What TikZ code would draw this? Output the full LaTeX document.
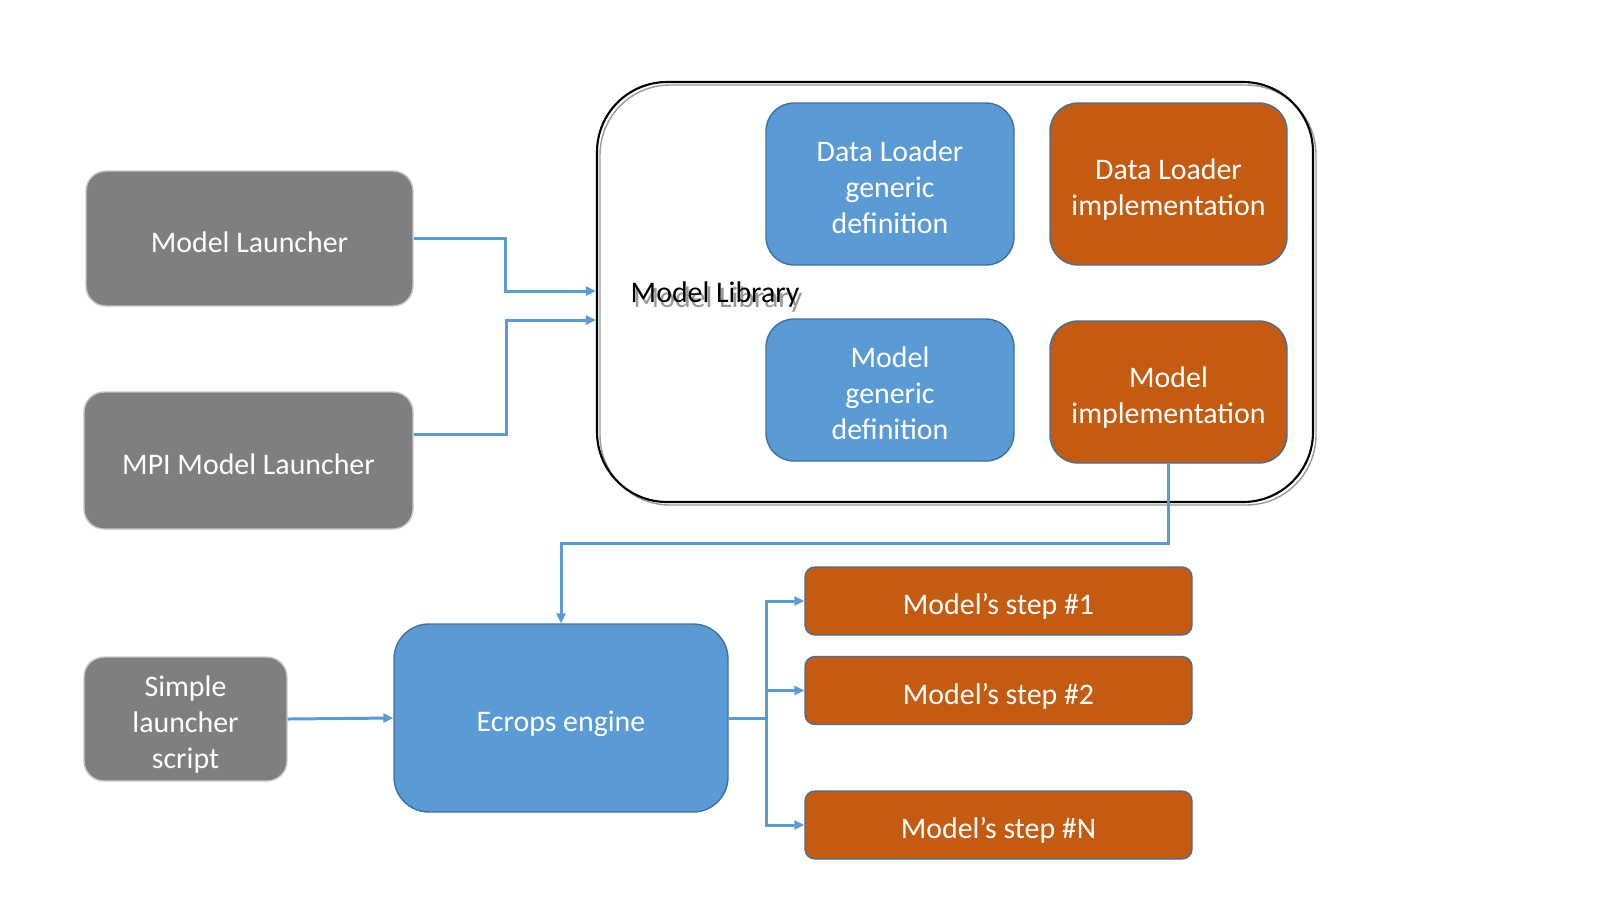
\documentclass[tikz,border=0pt]{standalone}
\usepackage{fontspec}
\setmainfont{Carlito}
\usepackage{tikz}
\usetikzlibrary{arrows.meta}
\definecolor{boxgray}{HTML}{7F7F7F}
\definecolor{boxblue}{HTML}{5B9BD5}
\definecolor{boxorange}{HTML}{C55A11}
\definecolor{edgeblue}{HTML}{41719C}
\newcommand{\firstln}{\rule{0pt}{10.2pt}}
\tikzset{
  txt/.style={font=\fontsize{8.5}{10.3}\selectfont,text=white,align=center,inner sep=0pt,
    execute at begin node={\firstln},execute at end node={\rule[-2.5pt]{0pt}{0pt}}},
  gbox/.style={txt,draw=black!22,line width=0.4pt,fill=boxgray,rounded corners=0.2cm},
  bbox/.style={txt,draw=edgeblue,line width=0.4pt,fill=boxblue,rounded corners=0.28cm},
  obox/.style={txt,draw=edgeblue,line width=0.4pt,fill=boxorange,rounded corners=0.28cm},
  sbox/.style={txt,draw=edgeblue,line width=0.4pt,fill=boxorange,rounded corners=0.1cm,minimum width=3.87cm,minimum height=0.68cm},
  conn/.style={draw=boxblue,line width=0.85pt,-{Triangle[length=1mm,width=0.9mm]}}
}
\begin{document}
\begin{tikzpicture}
\useasboundingbox (0,0) rectangle (16,-9);
\draw[black!40,line width=0.4pt,rounded corners=0.7cm] (6.00,-0.85) rectangle (13.16,-5.05);
\node[draw=black,line width=0.6pt,rounded corners=0.7cm,minimum width=7.16cm,minimum height=4.2cm,inner sep=0pt] (lib) at (9.55,-2.92) {};
\node[anchor=west,text=black!40,font=\fontsize{8.5}{10.3}\selectfont,inner sep=0pt] at (6.33,-3.00) {Model Library};
\node[anchor=west,text=black,font=\fontsize{8.5}{10.3}\selectfont,inner sep=0pt] (liblabel) at (6.30,-2.95) {Model Library};
\node[bbox,minimum width=2.48cm,minimum height=1.62cm] (dlg) at (8.90,-1.84) {\firstln Data Loader\\generic\\definition};
\node[obox,minimum width=2.37cm,minimum height=1.62cm] (dli) at (11.685,-1.84) {\firstln Data Loader\\implementation};
\node[bbox,minimum width=2.48cm,minimum height=1.42cm] (mg) at (8.90,-3.90) {\firstln Model\\generic\\definition};
\node[obox,minimum width=2.37cm,minimum height=1.42cm] (mi) at (11.685,-3.92) {\firstln Model\\implementation};
\node[gbox,minimum width=3.27cm,minimum height=1.35cm] (ml) at (2.495,-2.385) {Model Launcher};
\node[gbox,minimum width=3.29cm,minimum height=1.37cm] (mpi) at (2.485,-4.605) {MPI Model Launcher};
\node[gbox,minimum width=2.03cm,minimum height=1.24cm] (sl) at (1.855,-7.19) {\firstln Simple\\launcher\\script};
\node[bbox,rounded corners=0.35cm,minimum width=3.34cm,minimum height=1.88cm] (ec) at (5.61,-7.18) {Ecrops engine};
\node[sbox] (s1) at (9.985,-6.01) {Model’s step \#1};
\node[sbox] (s2) at (9.985,-6.905) {Model’s step \#2};
\node[sbox] (sn) at (9.985,-8.25) {Model’s step \#N};
\draw[conn] (ml.east) -- ++(0.92,0) |- ([yshift=0.01cm]lib.west);
\draw[conn] ([yshift=0.265cm]mpi.east) -- ++(0.93,0) |- ([yshift=-0.28cm]lib.west);
\draw[conn] (mi.south) -- ++(0,-0.80) -| (ec.north);
\draw[conn] (sl.east) -- (ec.west);
\draw[conn] (ec.east) -- ++(0.38,0) |- (s1.west);
\draw[conn] (ec.east) -- ++(0.38,0) |- (s2.west);
\draw[conn] (ec.east) -- ++(0.38,0) |- (sn.west);
\end{tikzpicture}
\end{document}
